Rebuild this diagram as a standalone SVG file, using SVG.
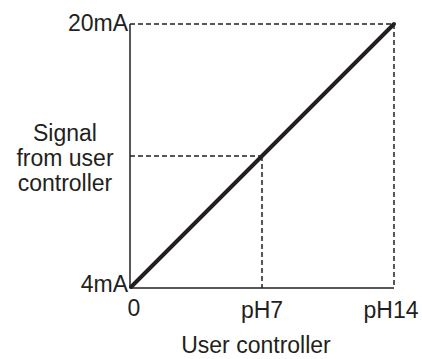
<svg xmlns="http://www.w3.org/2000/svg" width="422" height="359" viewBox="0 0 422 359">
<style>
.t{font-family:"Liberation Sans",Arial,sans-serif;font-size:23px;fill:#231f20}
.e{text-anchor:end}
.m{text-anchor:middle}
.ax{stroke:#231f20;stroke-width:1.5;fill:none}
.d{stroke:#231f20;stroke-width:1.5;stroke-dasharray:5 3;fill:none}
.plot{stroke:#231f20;stroke-width:4;fill:none;stroke-linecap:round}
</style>
<rect width="422" height="359" fill="#fff"/>
<g id="connectors">
<line class="d" x1="130" y1="24" x2="394" y2="24"/>
<line class="d" x1="394" y1="24" x2="394" y2="288"/>
<line class="d" x1="130" y1="156" x2="262" y2="156"/>
<line class="d" x1="262" y1="156" x2="262" y2="288"/>
<line class="ax" x1="130" y1="24" x2="130" y2="288"/>
<line class="ax" x1="130" y1="288" x2="394" y2="288"/>
<line class="plot" x1="131" y1="287" x2="394" y2="24"/>
</g>
<g id="y-labels">
<text class="t e" x="128" y="31">20mA</text>
<text class="t e" x="128" y="292">4mA</text>
</g>
<g id="y-title">
<text class="t m" x="65" y="141">Signal</text>
<text class="t m" x="65" y="166">from user</text>
<text class="t m" x="65" y="191">controller</text>
</g>
<g id="x-labels">
<text class="t m" x="134" y="316">0</text>
<text class="t m" x="262" y="318">pH7</text>
<text class="t m" x="391" y="318">pH14</text>
</g>
<g id="x-title">
<text class="t m" x="256" y="353">User controller</text>
</g>
</svg>
